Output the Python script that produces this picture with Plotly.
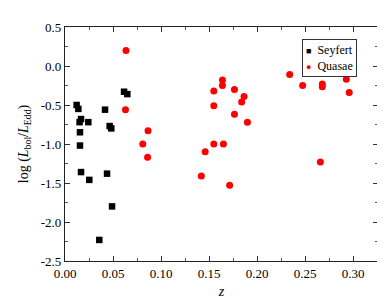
import plotly.graph_objects as go

# Seyfert galaxies (black squares)
seyfert_z = [0.0121, 0.0139, 0.0167, 0.0152, 0.0243, 0.0156, 0.0156, 0.0417, 0.0615,
             0.0649, 0.0465, 0.0482, 0.0167, 0.0253, 0.0438, 0.0490, 0.0357]
seyfert_l = [-0.50, -0.55, -0.68, -0.72, -0.72, -0.85, -1.02, -0.56, -0.33,
             -0.36, -0.77, -0.80, -1.36, -1.46, -1.38, -1.80, -2.23]

# Quasars (red circles)
quasar_z = [0.0635, 0.0630, 0.0865, 0.0810, 0.0860, 0.1420, 0.1460, 0.1550, 0.1550,
            0.1550, 0.1640, 0.1640, 0.1765, 0.1865, 0.1840, 0.1765, 0.1900, 0.1650,
            0.1715, 0.2340, 0.2475, 0.2680, 0.2680, 0.2930, 0.2960, 0.2660]
quasar_l = [0.20, -0.56, -0.83, -1.00, -1.17, -1.41, -1.10, -0.32, -0.51,
            -1.00, -0.18, -0.25, -0.30, -0.39, -0.46, -0.62, -0.72, -1.00,
            -1.53, -0.11, -0.25, -0.23, -0.265, -0.17, -0.34, -1.23]

series_names = ["Seyfert", "Quasae"]
series_colors = ["black", "#ff0000"]
series_glyphs = ["\u25A0", "\u25CF"]

x_tickvals = [0.00, 0.05, 0.10, 0.15, 0.20, 0.25, 0.30]
x_ticktext = ["0.00", "0.05", "0.10", "0.15", "0.20", "0.25", "0.30"]
y_tickvals = [0.5, 0.0, -0.5, -1.0, -1.5, -2.0, -2.5]
y_ticktext = ["0.5", "0.0", "-0.5", "-1.0", "-1.5", "-2.0", "-2.5"]

font_family = "Times New Roman, Liberation Serif, serif"

fig = go.Figure()
fig.add_trace(go.Scatter(
    x=seyfert_z, y=seyfert_l, mode="markers", name=series_names[0],
    marker=dict(symbol="square", size=6.5, color=series_colors[0]),
))
fig.add_trace(go.Scatter(
    x=quasar_z, y=quasar_l, mode="markers", name=series_names[1],
    marker=dict(symbol="circle", size=7, color=series_colors[1]),
))

axis_common = dict(
    showline=True, linecolor="#222", linewidth=1.3, mirror="ticks",
    ticks="inside", ticklen=5, tickwidth=1, tickcolor="#333",
    showgrid=False, zeroline=False,
    tickfont=dict(family=font_family, size=13, color="black"),
)

fig.update_xaxes(
    range=[0, 0.326], tickmode="array", tickvals=x_tickvals, ticktext=x_ticktext,
    minor=dict(ticks="inside", ticklen=3, tickwidth=1, tickcolor="#555", dtick=0.025, tick0=0),
    title=dict(text="<i>z</i>", font=dict(family=font_family, size=14, color="black"), standoff=6),
    **axis_common,
)
fig.update_yaxes(
    range=[-2.5, 0.5], tickmode="array", tickvals=y_tickvals, ticktext=y_ticktext,
    minor=dict(ticks="inside", ticklen=3, tickwidth=1, tickcolor="#555", dtick=0.25, tick0=0),
    title=dict(text="log (<i>L</i><sub>bol</sub>/<i>L</i><sub>Edd</sub>)",
               font=dict(family=font_family, size=14, color="black"), standoff=8),
    **axis_common,
)

# compact legend box (text-based, like the original figure)
legend_lines = [
    f"<span style='color:{c};font-size:9px'>{g}</span>  {n}"
    for n, c, g in zip(series_names, series_colors, series_glyphs)
]
fig.add_annotation(
    xref="paper", yref="paper", x=0.757, y=0.947, xanchor="left", yanchor="top",
    text="<br>".join(legend_lines), showarrow=False, align="left",
    font=dict(family=font_family, size=12, color="black"),
    bordercolor="#333", borderwidth=1, borderpad=3, bgcolor="white",
)

fig.update_layout(
    width=385, height=301,
    margin=dict(l=57, r=15, t=18, b=39),
    paper_bgcolor="white", plot_bgcolor="white",
    font=dict(family=font_family, size=12, color="black"),
    showlegend=False,
)

fig.write_html("out.html")
